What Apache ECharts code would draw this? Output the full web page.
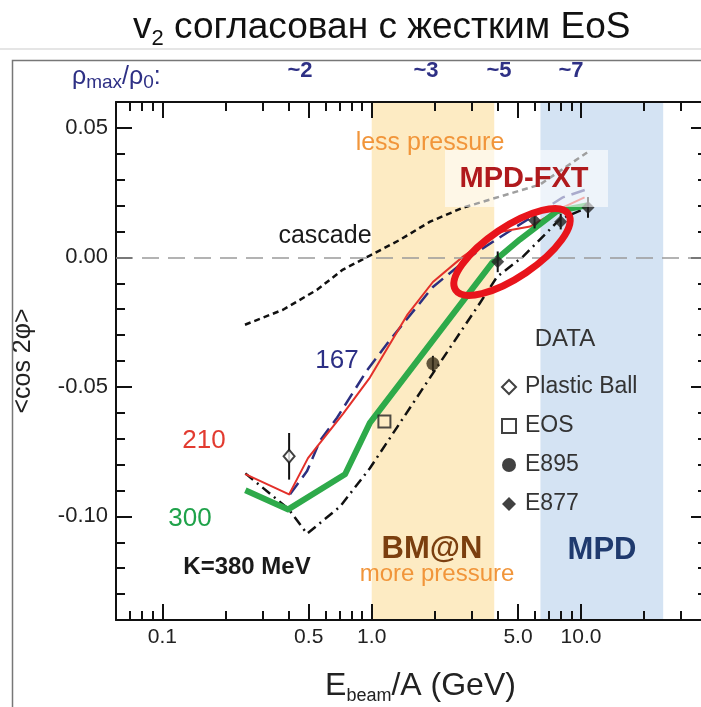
<!DOCTYPE html>
<html><head><meta charset="utf-8">
<script src="https://cdn.jsdelivr.net/npm/echarts@6/dist/echarts.min.js"></script>
<style>html,body{margin:0;padding:0;background:#fff}#c{width:701px;height:707px}</style>
</head><body><div id="c"></div>
<script>
// ---------- data (E_beam/A in GeV, <cos 2phi>) ----------
const xLabelValues = [0.1, 0.5, 1, 5, 10];
const xMajorTicks = [0.1, 0.5, 1, 5, 10];
const xMinorTicks = [0.07, 0.08, 0.09, 0.2, 0.3, 0.4, 0.6, 0.7, 0.8, 0.9, 2, 3, 4, 6, 7, 8, 9, 20, 30];
const yLabelValues = [-0.10, -0.05, 0.00, 0.05];
const yMinorTicks = [-0.13, -0.12, -0.11, -0.09, -0.08, -0.07, -0.06, -0.04, -0.03, -0.02, -0.01, 0.01, 0.02, 0.03, 0.04];
const rhoLabels = ['~2', '~3', '~5', '~7'];

const cascade = [[0.248,-0.026],[0.377,-0.0202],[0.548,-0.0125],[0.729,-0.0047],[0.98,0.0007],[1.365,0.0068],[1.9,0.0138],[2.73,0.0192],[4.1,0.0235],[6.36,0.0281],[10.7,0.0405]];
const k210 = [[0.249,-0.0837],[0.403,-0.0915],[0.496,-0.0775],[0.729,-0.0604],[0.98,-0.0464],[1.475,-0.0223],[1.96,-0.0095],[2.73,0.0003],[3.97,0.0096],[5.71,0.0119],[8.2,0.0193],[10.4,0.0232]];
const k167 = [[0.407,-0.0915],[0.491,-0.0825],[0.566,-0.0708],[0.683,-0.0619],[0.95,-0.0436],[1.22,-0.032],[1.96,-0.0114],[2.95,0.0003],[5.28,0.0135],[8.2,0.0232],[10.66,0.0263]];
const k300 = [[0.249,-0.0899],[0.399,-0.0973],[0.746,-0.0837],[0.98,-0.0639],[3.76,-0.0021],[5.1,0.0069],[7.66,0.0178],[10.66,0.0201]];
const k380 = [[0.249,-0.0834],[0.399,-0.097],[0.491,-0.1067],[0.706,-0.0962],[0.98,-0.0814],[1.9,-0.0464],[3.29,-0.0176],[3.97,-0.0075],[5.28,0.0003],[7.93,0.0147],[10.2,0.0185]];

const plasticBall = [[0.403,-0.0768,0.009]];
const eos = [[1.15,-0.0634]];
const e895 = [[1.96,-0.041,0.003]];
const e877 = [[4.0,-0.0017,0.004],[6.0,0.0142,0.003],[8.0,0.0138,0.003],[10.8,0.0193,0.004]];

const bandBMN = [1.0, 3.85];
const bandMPD = [6.4, 24.7];

// ---------- chart ----------
const FONT = '"Liberation Sans", Arial, Helvetica, sans-serif';
const chart = echarts.init(document.getElementById('c'), null, {renderer: 'canvas'});

function xAx(pos, ticks, len, withLabel) {
  return {
    type: 'log', logBase: 10, min: 0.06, max: 40, position: pos, gridIndex: 0,
    axisLine: {show: withLabel !== null, onZero: false, lineStyle: {color: '#111', width: 2}},
    axisTick: {show: true, inside: true, length: len, customValues: ticks, lineStyle: {color: '#111', width: 2}},
    axisLabel: withLabel ? {show: true, customValues: xLabelValues, margin: 7, fontSize: 21, fontFamily: FONT, color: '#222',
      formatter: v => (v < 1 ? String(v) : Number(v).toFixed(1))} : {show: false},
    splitLine: {show: false}, minorTick: {show: false}
  };
}
function yAx(pos, ticks, len, withLabel) {
  return {
    type: 'value', min: -0.14, max: 0.06, position: pos, gridIndex: 0,
    axisLine: {show: withLabel !== null, onZero: false, lineStyle: {color: '#111', width: 2}},
    axisTick: {show: true, inside: true, length: len, customValues: ticks, lineStyle: {color: '#111', width: 2}},
    axisLabel: withLabel ? {show: true, customValues: yLabelValues, margin: 8, fontSize: 22, fontFamily: FONT, color: '#222',
      formatter: v => Number(v).toFixed(2)} : {show: false},
    splitLine: {show: false}
  };
}

const xAxes = [xAx('bottom', xMajorTicks, 16, true), xAx('bottom', xMinorTicks, 9, null), xAx('top', xMajorTicks, 16, false), xAx('top', xMinorTicks, 9, null)];
Object.assign(xAxes[0], {name: '{a|E}{s|beam}{a|/A (GeV)}', nameLocation: 'middle', nameGap: 47,
  nameTextStyle: {padding: [0, 0, 0, 18], rich: {a: {fontSize: 32, fontFamily: FONT, color: '#222', lineHeight: 38, verticalAlign: 'middle'},
                          s: {fontSize: 18, fontFamily: FONT, color: '#222', lineHeight: 18, verticalAlign: 'bottom'}}}});
const yAxes = [yAx('left', yLabelValues, 16, true), yAx('left', yMinorTicks, 9, null), yAx('right', yLabelValues, 16, false), yAx('right', yMinorTicks, 9, null)];
Object.assign(yAxes[0], {name: '<cos 2φ>', nameLocation: 'middle', nameGap: 80, nameRotate: 90,
  nameTextStyle: {fontSize: 25, fontFamily: FONT, color: '#222'}});

function lineSeries(name, data, color, width, type, z) {
  return {name, type: 'line', data, xAxisIndex: 0, yAxisIndex: 0, symbol: 'none', z: z || 3, silent: true,
    lineStyle: {color, width, type: type || 'solid', cap: 'butt', join: 'round'}};
}
function errSeries(data) {
  return {type: 'custom', data, xAxisIndex: 0, yAxisIndex: 0, z: 6, silent: true, encode: {x: 0, y: 1},
    renderItem: (p, api) => {
      const x = api.value(0), y = api.value(1), e = api.value(2);
      const a = api.coord([x, y - e]), b = api.coord([x, y + e]);
      return {type: 'line', shape: {x1: a[0], y1: a[1], x2: b[0], y2: b[1]}, style: {stroke: '#111', lineWidth: 2}};
    }};
}

const option = {
  animation: false,
  backgroundColor: '#fff',
  title: {text: '{v|v}{s|2}{v| согласован с жестким EoS}', left: 128, top: 1,
    textStyle: {fontWeight: 'normal', rich: {v: {fontSize: 37, fontWeight: 'normal', fontFamily: FONT, color: '#111', lineHeight: 44, verticalAlign: 'middle'},
                       s: {fontSize: 22, fontWeight: 'normal', fontFamily: FONT, color: '#111', lineHeight: 21, verticalAlign: 'bottom'}}}},
  grid: {left: 116, right: -6, top: 102, bottom: 87, containLabel: false, outerBoundsMode: 'none'},
  xAxis: xAxes,
  yAxis: yAxes,
  legend: {
    orient: 'vertical', left: 496, top: 370, itemGap: 15, itemWidth: 14, itemHeight: 14, selectedMode: false,
    textStyle: {fontSize: 23, fontFamily: FONT, color: '#333', lineHeight: 24, padding: [0, 0, 0, 4]},
    data: [
      {name: 'Plastic Ball', icon: 'diamond', itemStyle: {color: '#fff', borderColor: '#111', borderWidth: 2}},
      {name: 'EOS', icon: 'rect', itemStyle: {color: '#fff', borderColor: '#111', borderWidth: 2}},
      {name: 'E895', icon: 'circle', itemStyle: {color: '#111'}},
      {name: 'E877', icon: 'diamond', itemStyle: {color: '#111'}}
    ]
  },
  series: [
    {type: 'line', data: [], z: 0, silent: true,
      markArea: {silent: true, z: 0, data: [
        [{xAxis: bandBMN[0], itemStyle: {color: '#fdebc3'}}, {xAxis: bandBMN[1]}],
        [{xAxis: bandMPD[0], itemStyle: {color: '#d4e3f3'}}, {xAxis: bandMPD[1]}]
      ]},
      markLine: {silent: true, symbol: 'none', label: {show: false},
        lineStyle: {color: '#9a9a9a', width: 1.5, type: [17, 9]}, data: [{yAxis: 0}]}},
    lineSeries('cascade', cascade, '#111', 2.5, [6, 4], 3),
    lineSeries('167', k167, '#2c2f80', 2.5, [14, 7], 3),
    lineSeries('210', k210, '#e3302a', 2, 'solid', 4),
    lineSeries('380', k380, '#111', 2.5, [10, 5, 2, 5], 3),
    lineSeries('300', k300, '#2eaa4a', 6, 'solid', 4),
    errSeries(plasticBall), errSeries(e895), errSeries(e877),
    {name: 'Plastic Ball', type: 'scatter', data: plasticBall, symbol: 'diamond', symbolSize: [11, 13], z: 7,
      itemStyle: {color: '#fff', borderColor: '#111', borderWidth: 2}},
    {name: 'EOS', type: 'scatter', data: eos, symbol: 'rect', symbolSize: 12, z: 7,
      itemStyle: {color: 'rgba(255,255,255,0)', borderColor: '#222', borderWidth: 2}},
    {name: 'E895', type: 'scatter', data: e895, symbol: 'circle', symbolSize: 13, z: 7, itemStyle: {color: '#3a2f1a'}},
    {name: 'E877', type: 'scatter', data: e877, symbol: 'diamond', symbolSize: 13, z: 7, itemStyle: {color: '#222'}}
  ],
  graphic: [
    {type: 'line', shape: {x1: 0, y1: 49, x2: 701, y2: 49}, style: {stroke: '#dcdcdc', lineWidth: 1.5}, z: 1},
    {type: 'polyline', shape: {points: [[12.5, 707], [12.5, 60.5], [701, 60.5]]}, style: {stroke: '#777', lineWidth: 1.5, fill: null}, z: 1},
    {type: 'text', x: 72, y: 77, style: {text: '{a|ρ}{s|max}{a|/ρ}{s|0}{a|:}', fill: '#2e3085', verticalAlign: 'middle',
      rich: {a: {fontSize: 25, fontFamily: FONT, fill: '#2e3085', lineHeight: 30, verticalAlign: 'middle'},
             s: {fontSize: 19, fontFamily: FONT, fill: '#2e3085', lineHeight: 18, verticalAlign: 'bottom'}}}},
    {type: 'text', x: 300, y: 71, style: {text: rhoLabels[0], fill: '#2e3085', font: 'bold 22px ' + FONT, align: 'center', verticalAlign: 'middle'}},
    {type: 'text', x: 426, y: 71, style: {text: rhoLabels[1], fill: '#2e3085', font: 'bold 22px ' + FONT, align: 'center', verticalAlign: 'middle'}},
    {type: 'text', x: 499, y: 71, style: {text: rhoLabels[2], fill: '#2e3085', font: 'bold 22px ' + FONT, align: 'center', verticalAlign: 'middle'}},
    {type: 'text', x: 571, y: 71, style: {text: rhoLabels[3], fill: '#2e3085', font: 'bold 22px ' + FONT, align: 'center', verticalAlign: 'middle'}},
    {type: 'text', x: 430, y: 143, z: 20, style: {text: 'less pressure', fill: '#f1953a', font: '25px ' + FONT, align: 'center', verticalAlign: 'middle'}},
    {type: 'rect', shape: {x: 445, y: 150, width: 163, height: 57}, style: {fill: 'rgba(255,255,255,0.6)'}, z: 20},
    {type: 'text', x: 524, y: 179, z: 21, style: {text: 'MPD-FXT', fill: '#b01a1d', font: 'bold 29px ' + FONT, align: 'center', verticalAlign: 'middle'}},
    {type: 'ellipse', x: 512, y: 252, rotation: 34 * Math.PI / 180, shape: {cx: 0, cy: 0, rx: 68, ry: 25}, z: 22,
      style: {fill: null, stroke: '#e8141b', lineWidth: 7}},
    {type: 'text', x: 325, y: 236, z: 20, style: {text: 'cascade', fill: '#1a1a1a', font: '25px ' + FONT, align: 'center', verticalAlign: 'middle'}},
    {type: 'text', x: 337, y: 361, z: 20, style: {text: '167', fill: '#2c2f85', font: '26px ' + FONT, align: 'center', verticalAlign: 'middle'}},
    {type: 'text', x: 204, y: 441, z: 20, style: {text: '210', fill: '#e23b30', font: '26px ' + FONT, align: 'center', verticalAlign: 'middle'}},
    {type: 'text', x: 190, y: 519, z: 20, style: {text: '300', fill: '#1fa24a', font: '26px ' + FONT, align: 'center', verticalAlign: 'middle'}},
    {type: 'text', x: 247, y: 567, z: 20, style: {text: 'K=380 MeV', fill: '#1a1a1a', font: 'bold 24px ' + FONT, align: 'center', verticalAlign: 'middle'}},
    {type: 'text', x: 432, y: 549, z: 20, style: {text: 'BM@N', fill: '#7b3f0f', font: 'bold 31px ' + FONT, align: 'center', verticalAlign: 'middle'}},
    {type: 'text', x: 437, y: 574, z: 20, style: {text: 'more pressure', fill: '#f1953a', font: '24px ' + FONT, align: 'center', verticalAlign: 'middle'}},
    {type: 'text', x: 602, y: 550, z: 20, style: {text: 'MPD', fill: '#1f3a6e', font: 'bold 31px ' + FONT, align: 'center', verticalAlign: 'middle'}},
    {type: 'text', x: 565, y: 339, z: 20, style: {text: 'DATA', fill: '#333', font: '24px ' + FONT, align: 'center', verticalAlign: 'middle'}}
  ]
};
chart.setOption(option);
</script>
</body></html>
